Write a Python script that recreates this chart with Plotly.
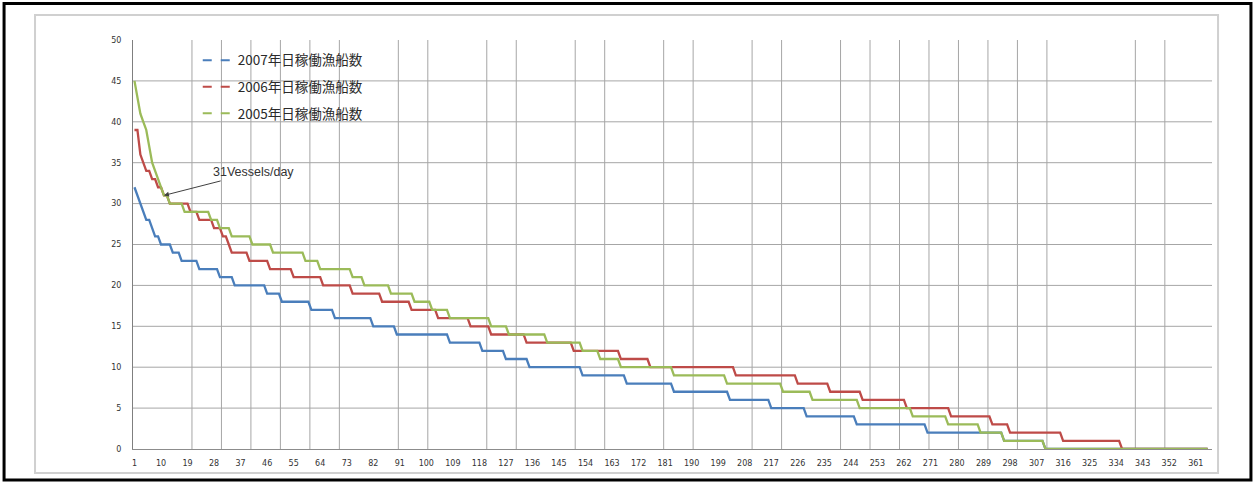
import plotly.graph_objects as go

# Daily operating vessel counts, sorted in descending order (duration curves).
# Each series is stored as run-lengths: a level and the last day it holds.
days_total = 365

levels_2007 = [32, 31, 30, 29, 28, 27, 26, 25, 24, 23, 22, 21, 20, 19, 18, 17, 16, 15, 14, 13, 12, 11, 10, 9, 8, 7, 6, 5, 4, 3, 2, 1, 0]
lastday_2007 = [1, 2, 3, 4, 6, 7, 9, 13, 16, 22, 29, 34, 45, 50, 60, 68, 81, 89, 107, 118, 126, 134, 152, 167, 183, 202, 216, 228, 245, 269, 295, 309, 365]

levels_2006 = [39, 36, 35, 34, 33, 32, 31, 30, 29, 28, 27, 26, 25, 24, 23, 22, 21, 20, 19, 18, 17, 16, 15, 14, 13, 12, 11, 10, 9, 8, 7, 6, 5, 4, 3, 2, 1, 0]
lastday_2006 = [2, 3, 4, 6, 8, 10, 12, 19, 22, 27, 30, 32, 33, 39, 46, 54, 64, 74, 84, 94, 103, 114, 121, 133, 149, 165, 175, 204, 225, 236, 247, 262, 277, 291, 297, 315, 335, 365]

levels_2005 = [45, 43, 41, 40, 39, 37, 35, 34, 33, 32, 31, 30, 29, 28, 27, 26, 25, 24, 23, 22, 21, 20, 19, 18, 17, 16, 15, 14, 13, 12, 11, 10, 9, 8, 7, 6, 5, 4, 3, 2, 1, 0]
lastday_2005 = [1, 2, 3, 4, 5, 6, 7, 8, 9, 10, 12, 17, 26, 29, 33, 40, 47, 58, 63, 74, 78, 87, 95, 101, 107, 121, 127, 140, 152, 158, 165, 183, 201, 220, 230, 246, 264, 276, 287, 295, 309, 365]

series_names = ["2007年日稼働漁船数", "2006年日稼働漁船数", "2005年日稼働漁船数"]
series_colors = ["#4a7ebb", "#be4b48", "#9bbb59"]

x_ticks = list(range(1, 362, 9))
y_ticks = list(range(0, 51, 5))
h_grid = list(range(5, 50, 5))
v_grid = [20.5, 30.5, 40.5, 50.5, 60.5, 70.5, 90.5, 100.5, 120.5, 130.5, 150.5, 160.5,
          180.5, 190.5, 210.5, 220.5, 240.5, 250.5, 260.5, 270.5, 280.5, 290.5,
          300.5, 310.5, 340.5, 350.5]

note_day = 11
note_value = 31
note_text = "31Vessels/day"


def expand(levels, lastdays):
    out = []
    for lvl, end in zip(levels, lastdays):
        out.extend([lvl] * (end - len(out)))
    return out


days = list(range(1, days_total + 1))
series = [expand(levels_2007, lastday_2007),
          expand(levels_2006, lastday_2006),
          expand(levels_2005, lastday_2005)]

fig = go.Figure()
for i, (name, color, vals) in enumerate(zip(series_names, series_colors, series)):
    fig.add_trace(go.Scatter(
        x=days, y=vals, mode="lines", name=name, legendgroup=name,
        showlegend=False, line=dict(color=color, width=2.3),
        hoverinfo="skip"))
    # dashed legend key for the same series
    fig.add_trace(go.Scatter(
        x=[None], y=[None], mode="lines", name=name, legendgroup=name,
        showlegend=True, line=dict(color=color, width=2, dash="dash")))

shapes = []
for d in v_grid:
    shapes.append(dict(type="line", xref="x", yref="paper", x0=d, x1=d, y0=0, y1=1,
                       line=dict(color="#a6a6a6", width=1), layer="below"))
for v in h_grid:
    shapes.append(dict(type="line", xref="paper", yref="y", x0=0, x1=1, y0=v, y1=v,
                       line=dict(color="#a6a6a6", width=1), layer="below"))
# chart area border and outer frame
shapes.append(dict(type="rect", xref="paper", yref="paper", x0=-0.0908, x1=1.0056,
                   y0=-0.0587, y1=1.0611, line=dict(color="#d0d0d0", width=2)))
shapes.append(dict(type="rect", xref="paper", yref="paper", x0=-0.1195, x1=1.0361,
                   y0=-0.0758, y1=1.089, line=dict(color="#000000", width=3)))

fig.update_layout(
    width=1255, height=483,
    margin=dict(l=133, r=43, t=40, b=34),
    paper_bgcolor="white", plot_bgcolor="white",
    shapes=shapes,
    font=dict(family="DejaVu Sans", color="#333333"),
    legend=dict(x=0.06, y=0.988, xanchor="left", yanchor="top",
                bgcolor="rgba(0,0,0,0)", traceorder="grouped", tracegroupgap=6,
                font=dict(family="Noto Sans CJK JP", size=13.5, color="#2a2a2a")),
    xaxis=dict(range=[0.5, 366.5], tickmode="array", tickvals=x_ticks,
               ticktext=[str(t) for t in x_ticks], showgrid=False, zeroline=False,
               showline=True, linecolor="#8c8c8c", linewidth=1, ticks="",
               tickfont=dict(size=8, color="#333333"), ticklabelstandoff=6),
    yaxis=dict(range=[0, 50], tickmode="array", tickvals=y_ticks, showgrid=False,
               zeroline=False, showline=True, linecolor="#7f7f7f", linewidth=1,
               ticks="", tickfont=dict(size=8, color="#333333"), ticklabelstandoff=9),
    annotations=[dict(x=note_day, y=note_value, xref="x", yref="y", text=note_text,
                      showarrow=True, arrowhead=2, arrowsize=1, arrowwidth=1,
                      arrowcolor="#404040", ax=90, ay=-23,
                      font=dict(family="Liberation Sans", size=12.5, color="#333333"))],
)

fig.write_html("out.html")
